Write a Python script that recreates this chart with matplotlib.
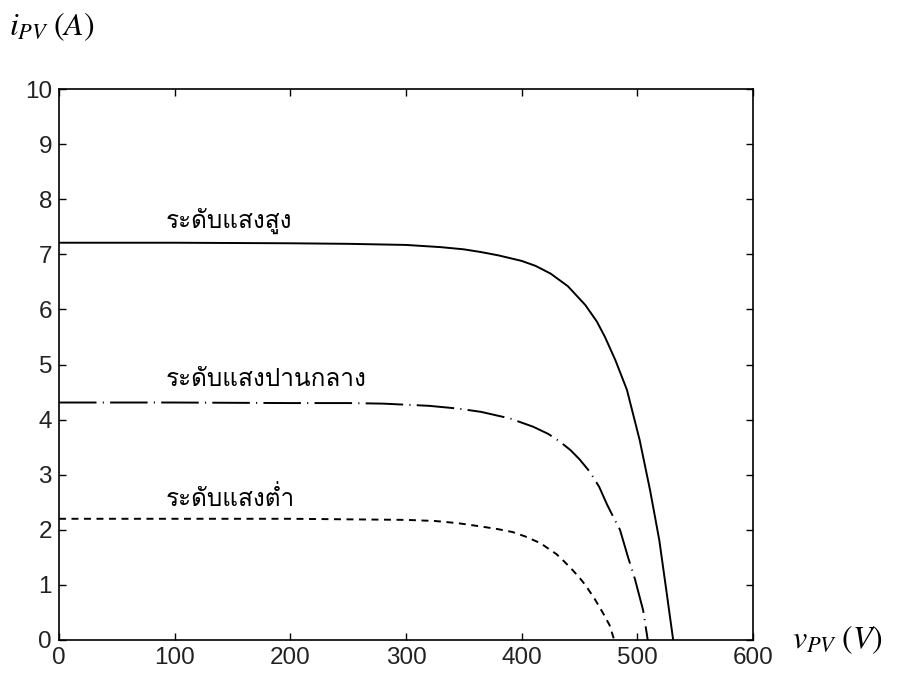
import numpy as np
import matplotlib
matplotlib.use('Agg')
import matplotlib.pyplot as plt
from matplotlib import font_manager, ft2font

# PV current-voltage curves at three irradiance levels
v_high = [0, 100, 200, 250, 300, 330, 350, 365, 380, 400, 412, 425, 440, 455, 465, 472,
          481, 491, 502, 511, 519, 525, 531]
i_high = [7.21, 7.21, 7.2, 7.19, 7.17, 7.13, 7.09, 7.04, 6.98, 6.88, 6.79, 6.65, 6.42, 6.08,
          5.78, 5.5, 5.08, 4.54, 3.63, 2.72, 1.81, 0.91, 0.0]

v_mid = [0, 100, 200, 250, 280, 320, 345, 365, 390, 410, 423, 433, 442, 450, 459, 467,
         474, 480, 485, 492, 498, 505, 509]
i_mid = [4.31, 4.31, 4.3, 4.3, 4.29, 4.25, 4.2, 4.14, 4.02, 3.87, 3.74, 3.6, 3.45, 3.28,
         3.05, 2.78, 2.45, 2.2, 2.0, 1.5, 1.1, 0.54, 0.0]

v_low = [0, 100, 200, 250, 300, 325, 345, 365, 380, 392, 403, 416, 430, 437, 444, 450, 455,
         463, 470, 476, 480]
i_low = [2.2, 2.2, 2.2, 2.19, 2.18, 2.16, 2.12, 2.06, 2.01, 1.96, 1.88, 1.76, 1.56, 1.42,
         1.27, 1.13, 1.0, 0.75, 0.5, 0.27, 0.0]

labels = ['ระดับแสงสูง', 'ระดับแสงปานกลาง', 'ระดับแสงต่ำ']
label_pos = [(92, 7.6), (92, 4.72), (92, 2.57)]

x_ticks = [0, 100, 200, 300, 400, 500, 600]
y_ticks = list(range(0, 11))


# find an installed font that has Thai glyphs
def find_thai_font():
    for f in font_manager.fontManager.ttflist:
        try:
            cmap = ft2font.FT2Font(f.fname).get_charmap()
        except Exception:
            continue
        if 0x0E14 in cmap and 0x0E23 in cmap:
            return f.name
    return None


thai_family = find_thai_font()

plt.rcParams['mathtext.fontset'] = 'stix'
plt.rcParams['font.family'] = ['Liberation Sans', 'DejaVu Sans']
plt.rcParams['lines.scale_dashes'] = False

fig = plt.figure(figsize=(9.03, 6.73), dpi=100)
ax = fig.add_axes([59 / 903, 1 - 640 / 673, 694 / 903, 551 / 673])

ax.plot(v_high, i_high, color='black', lw=1.4)
ln_mid, = ax.plot(v_mid, i_mid, color='black', lw=1.4)
ln_mid.set_dashes([27, 4.5, 0.8, 4.5])
ln_low, = ax.plot(v_low, i_low, color='black', lw=1.4)
ln_low.set_dashes([5, 4])

thai_font = [thai_family, 'DejaVu Sans'] if thai_family else ['DejaVu Sans']
for txt, (x, y) in zip(labels, label_pos):
    ax.text(x, y, txt, fontsize=17.5, family=thai_font, va='center', ha='left')

ax.set_xlim(0, 600)
ax.set_ylim(0, 10)
ax.set_xticks(x_ticks)
ax.set_yticks(y_ticks)
ax.tick_params(direction='in', length=5, width=1, top=True, right=True,
               labelsize=17.5, pad=5, labelcolor='#222222')
for s in ax.spines.values():
    s.set_linewidth(1.2)

fig.text(9 / 903, 1 - 27 / 673, r'$i_{PV}\;(A)$', fontsize=23, va='center', ha='left')
fig.text(792 / 903, 1 - 640 / 673, r'$v_{PV}\;(V)$', fontsize=23, va='center', ha='left')

fig.savefig('out.png', dpi=100)
